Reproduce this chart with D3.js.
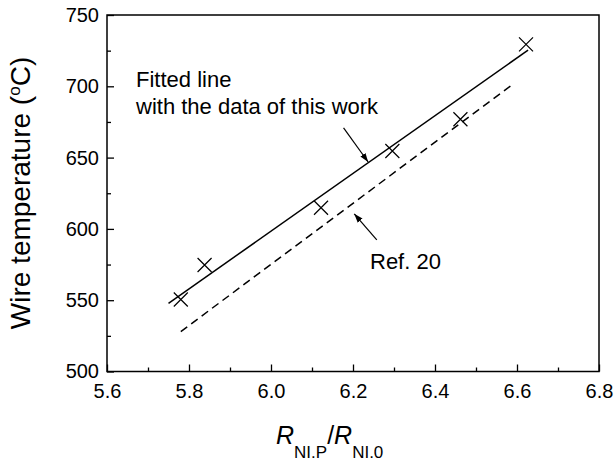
<!DOCTYPE html>
<html>
<head>
<meta charset="utf-8">
<script src="https://cdn.jsdelivr.net/npm/d3@7"></script>
<style>
  body { margin: 0; background: #fff; }
  svg text { font-family: "Liberation Sans", Arial, sans-serif; fill: #000; }
</style>
</head>
<body>
<svg id="chart" width="614" height="461"></svg>
<script>
// measured points (R ratio, wire temperature)
const ratioPts = [5.78, 5.838, 6.122, 6.296, 6.462, 6.622]
const tempPts = [550.5, 574.7, 614.8, 654.6, 676.9, 729.4]
// fitted line endpoints
const fitX = [5.75, 6.627]
const fitY = [547.8, 725.4]
// Ref. 20 line endpoints
const refX = [5.78, 6.59]
const refY = [528, 701.5]
// ticks
const xTicks = [5.6, 5.8, 6.0, 6.2, 6.4, 6.6, 6.8]
const xMinor = [5.7, 5.9, 6.1, 6.3, 6.5, 6.7]
const yTicks = [500, 550, 600, 650, 700, 750]
const yMinor = [525, 575, 625, 675, 725]

const margin = { top: 15, right: 15, bottom: 90, left: 107 }
const width = 599 - margin.left
const height = 371.5 - margin.top

const svg = d3.select("#chart")
const g = svg.append("g").attr("transform", "translate(" + margin.left + "," + margin.top + ")")

const x = d3.scaleLinear().domain([5.6, 6.8]).range([0, width])
const y = d3.scaleLinear().domain([500, 750]).range([height, 0])

// frame
g.append("rect")
  .attr("width", width).attr("height", height)
  .attr("fill", "none").attr("stroke", "#000").attr("stroke-width", 1.5)

// x axis, ticks pointing inward
const xAxis = g.append("g").attr("transform", "translate(0," + height + ")")
xAxis.call(d3.axisBottom(x).tickValues(xTicks).tickSizeInner(-7).tickSizeOuter(0).tickPadding(12).tickFormat(d3.format(".1f")))
xAxis.append("g").call(d3.axisBottom(x).tickValues(xMinor).tickSizeInner(-4).tickSizeOuter(0).tickFormat(""))
xAxis.selectAll(".domain").remove()
xAxis.selectAll("line").attr("stroke", "#000").attr("stroke-width", 1.3)
xAxis.selectAll("text").attr("font-size", 20).attr("font-family", "Liberation Sans, Arial, sans-serif")

const yAxis = g.append("g")
yAxis.call(d3.axisLeft(y).tickValues(yTicks).tickSizeInner(-7).tickSizeOuter(0).tickPadding(8))
yAxis.append("g").call(d3.axisLeft(y).tickValues(yMinor).tickSizeInner(-4).tickSizeOuter(0).tickFormat(""))
yAxis.selectAll(".domain").remove()
yAxis.selectAll("line").attr("stroke", "#000").attr("stroke-width", 1.3)
yAxis.selectAll("text").attr("font-size", 20).attr("font-family", "Liberation Sans, Arial, sans-serif")

// lines
const line = d3.line().x(d => x(d[0])).y(d => y(d[1]))
g.append("path")
  .datum(d3.zip(fitX, fitY))
  .attr("d", line).attr("fill", "none").attr("stroke", "#000").attr("stroke-width", 1.5)
g.append("path")
  .datum(d3.zip(refX, refY))
  .attr("d", line).attr("fill", "none").attr("stroke", "#000").attr("stroke-width", 1.5)
  .attr("stroke-dasharray", "8,5")

// crosses
const s = 7
g.selectAll(".pt")
  .data(d3.zip(ratioPts, tempPts))
  .join("path")
  .attr("class", "pt")
  .attr("d", d => {
    const cx = x(d[0]), cy = y(d[1])
    return "M" + (cx - s) + "," + (cy - s) + "L" + (cx + s) + "," + (cy + s) +
           "M" + (cx - s) + "," + (cy + s) + "L" + (cx + s) + "," + (cy - s)
  })
  .attr("stroke", "#000").attr("stroke-width", 1.2).attr("fill", "none")

// arrows
svg.append("defs").append("marker")
  .attr("id", "arr").attr("viewBox", "0 0 10 10")
  .attr("refX", 10).attr("refY", 5)
  .attr("markerWidth", 9).attr("markerHeight", 9)
  .attr("markerUnits", "userSpaceOnUse")
  .attr("orient", "auto")
  .append("path").attr("d", "M0,1.5L10,5L0,8.5Z").attr("fill", "#000")

const arrows = [
  [[6.177, 670.8], [6.237, 646.9]],
  [[6.258, 592.3], [6.203, 610.6]]
]
arrows.forEach(a => {
  g.append("line")
    .attr("x1", x(a[0][0])).attr("y1", y(a[0][1]))
    .attr("x2", x(a[1][0])).attr("y2", y(a[1][1]))
    .attr("stroke", "#000").attr("stroke-width", 1.2)
    .attr("marker-end", "url(#arr)")
})

// annotations
svg.append("text").attr("x", 136).attr("y", 87).attr("font-size", 22).text("Fitted line")
svg.append("text").attr("x", 136).attr("y", 114).attr("font-size", 22).text("with the data of this work")
svg.append("text").attr("x", 370).attr("y", 269).attr("font-size", 22).text("Ref. 20")

// y title
const yt = svg.append("text")
  .attr("transform", "translate(30,193) rotate(-90)")
  .attr("text-anchor", "middle").attr("font-size", 28)
yt.append("tspan").text("Wire temperature (")
yt.append("tspan").attr("font-size", 17).attr("dy", -10).text("o")
yt.append("tspan").attr("dy", 10).text("C)")

// x title
const xt = svg.append("text").attr("x", 276).attr("y", 444).attr("font-size", 25)
xt.append("tspan").attr("font-style", "italic").text("R")
xt.append("tspan").attr("font-size", 17).attr("dy", 14).text("NI.P")
xt.append("tspan").attr("dy", -14).text("/")
xt.append("tspan").attr("font-style", "italic").text("R")
xt.append("tspan").attr("font-size", 17).attr("dy", 14).text("NI.0")
</script>
</body>
</html>
